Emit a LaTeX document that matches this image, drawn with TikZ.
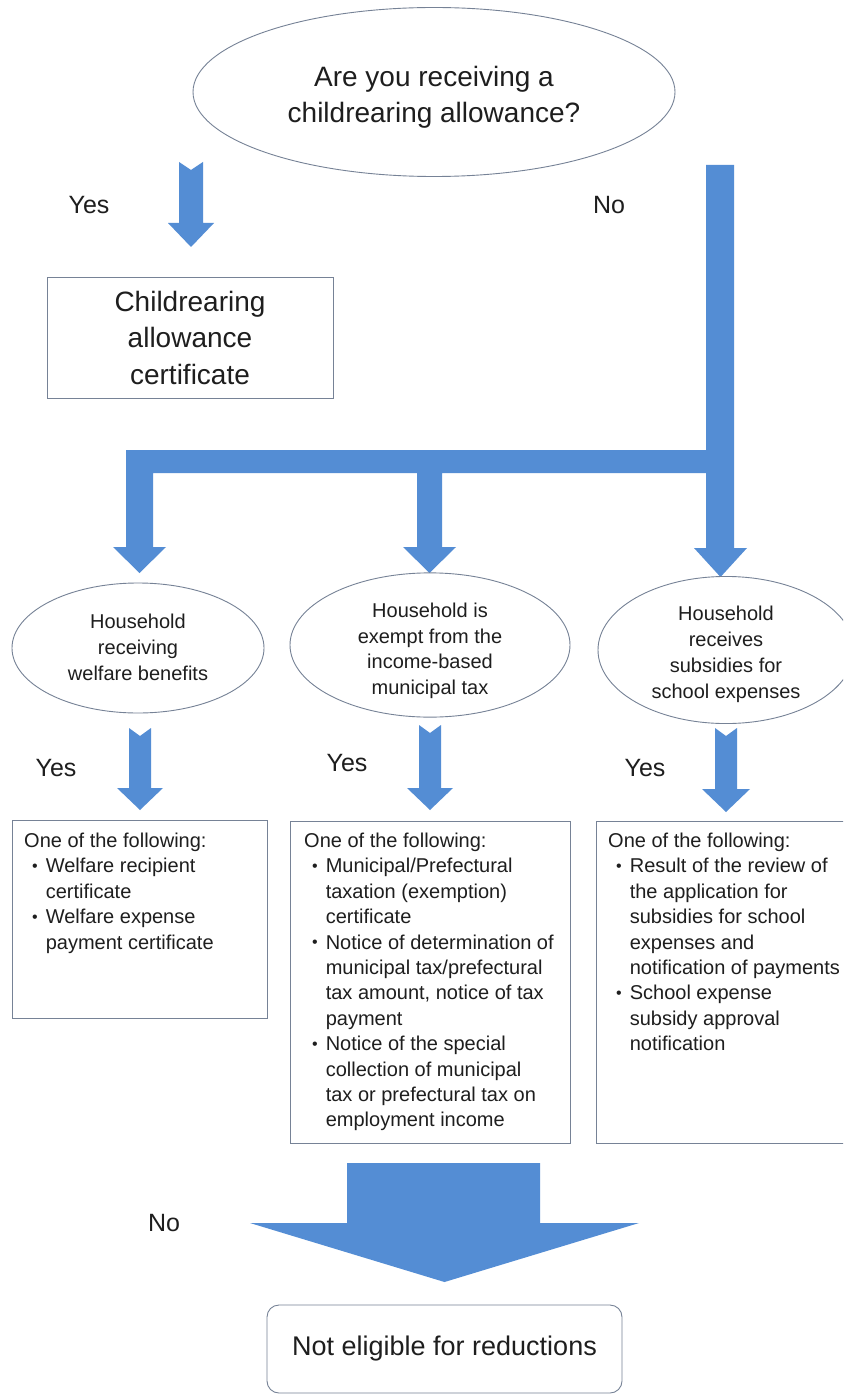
\documentclass[tikz,border=0pt]{standalone}
\usepackage{fontspec}
\setmainfont{Liberation Sans}
\usetikzlibrary{shapes.geometric}
\definecolor{arrowblue}{RGB}{84,141,212}
\definecolor{edgegray}{RGB}{118,130,150}
\definecolor{txt}{RGB}{30,30,30}
\newcommand\bxfont{\fontsize{20}{25.4}\selectfont}
\newcommand\bul{{\fontsize{16}{16}\selectfont\raisebox{1.5pt}{•}}}
\newcommand\lowered[2]{\raisebox{-#1}[\height][\depth]{\begin{tabular}{@{}c@{}}#2\end{tabular}}}
% notched block arrow: cx, top, head start, tip, half shaft, half head
\newcommand\notcharrow[6]{%
  \fill[arrowblue] (#1-#5,#2) -- (#1,#2+8) -- (#1+#5,#2) -- (#1+#5,#3) -- (#1+#6,#3)
    -- (#1,#4) -- (#1-#6,#3) -- (#1-#5,#3) -- cycle;}
\begin{document}
\begin{tikzpicture}[x=1pt,y=-1pt,
  oval/.style={ellipse, draw=edgegray, line width=0.9pt, inner sep=0, align=center, text=txt},
  plainbox/.style={draw=edgegray, line width=0.9pt, text=txt},
  lbl/.style={text=txt, font=\fontsize{25}{30}\selectfont, inner sep=0},
  listtext/.style={anchor=north west, inner sep=0, text=txt, font=\bxfont}]
\clip (0,0) rectangle (843,1396);
\fill[white] (0,0) rectangle (843,1396);

% question
\node[oval, minimum width=482pt, minimum height=169pt, font=\fontsize{28}{36}\selectfont] (q) at (434,92)
  {\lowered{5pt}{Are you receiving a\\childrearing allowance?}};

% yes arrow top
\notcharrow{191}{162}{223}{247}{12}{23}
\node[lbl] (yes0) at (89,205) {Yes};
\node[lbl] (no0) at (609,205) {No};

% certificate box
\node[plainbox, minimum width=286pt, minimum height=121pt, align=center,
  font=\fontsize{28}{36.5}\selectfont] (cert) at (190,337.5) {Childrearing\\allowance\\certificate};

% branching connector
\fill[arrowblue] (706,165) -- (734,165) -- (734,548) -- (747,548) -- (720.5,577) -- (694,548)
  -- (706,548) -- (706,473) -- (442,473) -- (442,547) -- (456,547) -- (429.5,573) -- (403,547)
  -- (417,547) -- (417,473) -- (153,473) -- (153,547) -- (166,547) -- (139.5,573) -- (113,547)
  -- (126,547) -- (126,450) -- (706,450) -- cycle;

% three conditions
\node[oval, minimum width=252pt, minimum height=130pt, font=\fontsize{20}{26}\selectfont] (c1) at (138,648)
  {\lowered{1pt}{Household\\receiving\\welfare benefits}};
\node[oval, minimum width=280pt, minimum height=131pt, font=\fontsize{20}{25.5}\selectfont] (c2) at (430,645)
  {\lowered{6pt}{Household is\\exempt from the\\income-based\\municipal tax}};
\node[oval, minimum width=256pt, minimum height=134pt, font=\fontsize{20}{26}\selectfont] (c3) at (726,650)
  {\lowered{4pt}{Household\\receives\\subsidies for\\school expenses}};

% yes arrows row 2
\notcharrow{140}{728}{788}{810}{11}{23}
\notcharrow{430}{725}{788}{810}{11}{23}
\notcharrow{726}{728}{789}{812}{11}{24}
\node[lbl] (yes1) at (56,768) {Yes};
\node[lbl] (yes2) at (347,763) {Yes};
\node[lbl] (yes3) at (645,768) {Yes};

% document boxes
\node[plainbox, minimum width=255pt, minimum height=198pt] (b1) at (139.5,919) {};
\node[plainbox, minimum width=280pt, minimum height=322pt] (b2) at (430,982) {};
\node[plainbox, minimum width=254pt, minimum height=322pt] (b3) at (723,982) {};

\node[listtext] (t1) at (24,829.5) {\begin{tabular}{@{\hspace{8pt}}l@{\hspace{8pt}}l@{}}
\multicolumn{2}{@{}l@{}}{One of the following:}\\
\bul & Welfare recipient\\
 & certificate\\
\bul & Welfare expense\\
 & payment certificate
\end{tabular}};

\node[listtext] (t2) at (304,829.5) {\begin{tabular}{@{\hspace{8pt}}l@{\hspace{8pt}}l@{}}
\multicolumn{2}{@{}l@{}}{One of the following:}\\
\bul & Municipal/Prefectural\\
 & taxation (exemption)\\
 & certificate\\
\bul & Notice of determination of\\
 & municipal tax/prefectural\\
 & tax amount, notice of tax\\
 & payment\\
\bul & Notice of the special\\
 & collection of municipal\\
 & tax or prefectural tax on\\
 & employment income
\end{tabular}};

\node[listtext] (t3) at (608,829.5) {\begin{tabular}{@{\hspace{8pt}}l@{\hspace{8pt}}l@{}}
\multicolumn{2}{@{}l@{}}{One of the following:}\\
\bul & Result of the review of\\
 & the application for\\
 & subsidies for school\\
 & expenses and\\
 & notification of payments\\
\bul & School expense\\
 & subsidy approval\\
 & notification
\end{tabular}};

% big no arrow
\fill[arrowblue] (347,1163) -- (540,1163) -- (540,1223) -- (639,1223) -- (444.5,1282)
  -- (250,1223) -- (347,1223) -- cycle;
\node[lbl] (no1) at (164,1223) {No};

% final box
\node[plainbox, rounded corners=12pt, minimum width=355pt, minimum height=88pt,
  font=\fontsize{27}{32}\selectfont] (final) at (444.5,1349) {Not eligible for reductions};
\end{tikzpicture}
\end{document}
